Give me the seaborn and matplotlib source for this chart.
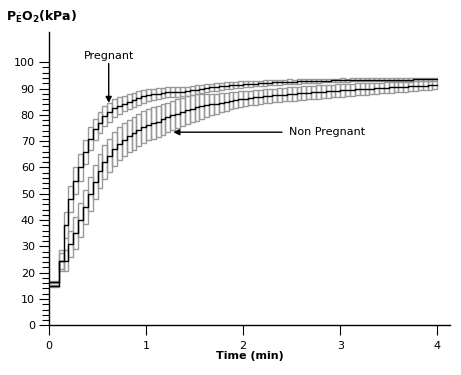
import numpy as np
import pandas as pd
import seaborn as sns
import matplotlib.pyplot as plt

# Time (min) at the start of each step, 0.05 min apart
time_min = [0.00, 0.05, 0.10, 0.15, 0.20, 0.25, 0.30, 0.35, 0.40, 0.45,
            0.50, 0.55, 0.60, 0.65, 0.70, 0.75, 0.80, 0.85, 0.90, 0.95,
            1.00, 1.05, 1.10, 1.15, 1.20, 1.25, 1.30, 1.35, 1.40, 1.45,
            1.50, 1.55, 1.60, 1.65, 1.70, 1.75, 1.80, 1.85, 1.90, 1.95,
            2.00, 2.05, 2.10, 2.15, 2.20, 2.25, 2.30, 2.35, 2.40, 2.45,
            2.50, 2.55, 2.60, 2.65, 2.70, 2.75, 2.80, 2.85, 2.90, 2.95,
            3.00, 3.05, 3.10, 3.15, 3.20, 3.25, 3.30, 3.35, 3.40, 3.45,
            3.50, 3.55, 3.60, 3.65, 3.70, 3.75, 3.80, 3.85, 3.90, 3.95]

# Pregnant: mean and SEM (kPa)
preg_mean = [16.5, 16.5, 24.5, 38.0, 48.0, 55.0, 60.0, 66.0, 71.0, 74.5,
             77.0, 79.5, 81.0, 82.5, 83.5, 84.3, 85.0, 85.7, 86.3, 87.0,
             87.6, 87.8, 88.0, 88.3, 88.5, 88.6, 88.7, 88.8, 89.0, 89.3,
             89.6, 89.9, 90.1, 90.4, 90.6, 90.8, 91.0, 91.2, 91.4, 91.5,
             91.6, 91.7, 91.9, 92.0, 92.1, 92.2, 92.3, 92.4, 92.5, 92.6,
             92.6, 92.7, 92.8, 92.8, 92.9, 92.9, 93.0, 93.0, 93.1, 93.1,
             93.2, 93.2, 93.3, 93.3, 93.3, 93.3, 93.3, 93.3, 93.4, 93.4,
             93.4, 93.4, 93.4, 93.4, 93.4, 93.5, 93.5, 93.5, 93.5, 93.5]
preg_sem = [0.4, 0.4, 4.0, 5.0, 5.0, 5.0, 5.0, 4.5, 4.5, 4.0,
            4.0, 3.8, 3.6, 3.4, 3.2, 3.0, 2.8, 2.7, 2.6, 2.5,
            2.3, 2.2, 2.1, 2.0, 1.9, 1.8, 1.8, 1.7, 1.7, 1.6,
            1.6, 1.5, 1.5, 1.4, 1.4, 1.3, 1.3, 1.2, 1.2, 1.2,
            1.1, 1.1, 1.0, 1.0, 1.0, 0.9, 0.9, 0.9, 0.9, 0.9,
            0.8, 0.8, 0.8, 0.8, 0.8, 0.7, 0.7, 0.7, 0.7, 0.7,
            0.7, 0.6, 0.6, 0.6, 0.6, 0.6, 0.6, 0.6, 0.6, 0.6,
            0.6, 0.5, 0.5, 0.5, 0.5, 0.5, 0.5, 0.5, 0.5, 0.5]

# Non pregnant: mean and SEM (kPa)
nonpreg_mean = [15.0, 15.0, 24.5, 24.5, 31.0, 35.0, 40.0, 45.0, 50.0, 54.5,
                58.5, 62.0, 64.5, 67.0, 69.0, 70.5, 72.0, 73.0, 74.2, 75.3,
                76.3, 76.8, 77.4, 78.3, 79.0, 79.8, 80.5, 81.2, 81.9, 82.3,
                82.8, 83.2, 83.6, 84.0, 84.3, 84.6, 85.0, 85.3, 85.6, 85.9,
                86.1, 86.4, 86.7, 86.9, 87.1, 87.3, 87.4, 87.6, 87.7, 87.8,
                88.0, 88.2, 88.3, 88.4, 88.6, 88.7, 88.8, 88.9, 89.0, 89.2,
                89.3, 89.4, 89.6, 89.7, 89.8, 89.9, 90.0, 90.1, 90.2, 90.3,
                90.4, 90.5, 90.6, 90.7, 90.8, 90.9, 91.0, 91.1, 91.2, 91.3]
nonpreg_sem = [0.4, 0.4, 3.0, 4.0, 5.0, 6.0, 6.5, 6.5, 6.5, 6.5,
               6.5, 6.5, 6.4, 6.4, 6.3, 6.3, 6.2, 6.2, 6.1, 6.1,
               6.0, 6.0, 6.0, 5.8, 5.6, 5.5, 5.4, 5.3, 5.2, 5.1,
               5.0, 4.7, 4.4, 4.1, 3.8, 3.6, 3.4, 3.2, 3.1, 3.0,
               2.9, 2.8, 2.8, 2.7, 2.7, 2.7, 2.6, 2.6, 2.6, 2.6,
               2.6, 2.5, 2.5, 2.5, 2.5, 2.5, 2.5, 2.4, 2.4, 2.4,
               2.4, 2.3, 2.3, 2.3, 2.2, 2.2, 2.1, 2.1, 2.0, 2.0,
               2.0, 1.9, 1.9, 1.9, 1.8, 1.8, 1.7, 1.7, 1.7, 1.6]

step = 0.05
x_ticks = [0, 1, 2, 3, 4]
y_ticks = [0, 10, 20, 30, 40, 50, 60, 70, 80, 90, 100]

sns.set_style("ticks")
plt.rcParams["font.family"] = ["DejaVu Sans"]
plt.rcParams["mathtext.fontset"] = "dejavusans"
plt.rcParams["text.color"] = "black"
plt.rcParams["axes.labelcolor"] = "black"

fig = plt.figure(figsize=(4.61, 3.75), dpi=100)
ax = fig.add_axes([0.1063, 0.1325, 0.8697, 0.783])

grey = "#999999"
for mean, sem in [(nonpreg_mean, nonpreg_sem), (preg_mean, preg_sem)]:
    m = np.array(mean)
    s = np.array(sem)
    ax.bar(time_min, 2 * s, bottom=m - s, width=step, align="edge",
           fill=False, edgecolor=grey, linewidth=1.0, zorder=2)

# mean curves as steps; repeat last value so the step runs to the end
for mean in [preg_mean, nonpreg_mean]:
    df = pd.DataFrame({"t": time_min + [time_min[-1] + step],
                       "v": mean + [mean[-1]]})
    sns.lineplot(data=df, x="t", y="v", ax=ax, color="black", linewidth=1.0,
                 drawstyle="steps-post", estimator=None, zorder=3)

ax.set_xlim(0, 4.13)
ax.set_ylim(0, 111.6)
ax.set_xticks(x_ticks)
ax.set_yticks(y_ticks)
ax.set_yticks(np.arange(0, 101, 2), minor=True)
ax.tick_params(axis="both", which="major", direction="out", length=7.2,
               width=0.8, labelsize=8, colors="black", labelcolor="black", pad=3)
ax.tick_params(axis="y", which="minor", direction="out", length=5, width=0.8,
               colors="black")
ax.tick_params(axis="x", pad=4)
for side in ["top", "right"]:
    ax.spines[side].set_visible(False)
for side in ["left", "bottom"]:
    ax.spines[side].set_linewidth(1.0)
    ax.spines[side].set_color("black")

ax.set_xlabel("Time (min)", fontsize=8, fontweight="bold", labelpad=0,
              color="black")
ax.set_ylabel("")
fig.text(0.013, 0.933, r"$\mathbf{P}_{\dot{\mathbf{E}}}\mathbf{O}_{\mathbf{2}}$(kPa)",
         fontsize=9, fontweight="bold", ha="left", va="bottom", color="black")

ax.annotate("", xy=(0.615, 84.5), xytext=(0.615, 99.5),
            arrowprops=dict(arrowstyle="-|>", color="black", lw=1,
                            mutation_scale=9, shrinkA=0, shrinkB=0))
ax.text(0.62, 102.5, "Pregnant", fontsize=8, ha="center", va="center",
        color="black")
ax.annotate("", xy=(1.28, 73.4), xytext=(2.40, 73.4),
            arrowprops=dict(arrowstyle="-|>", color="black", lw=1,
                            mutation_scale=9, shrinkA=0, shrinkB=0))
ax.text(2.47, 73.6, "Non Pregnant", fontsize=8, ha="left", va="center",
        color="black")

fig.savefig("out.png", dpi=100)
